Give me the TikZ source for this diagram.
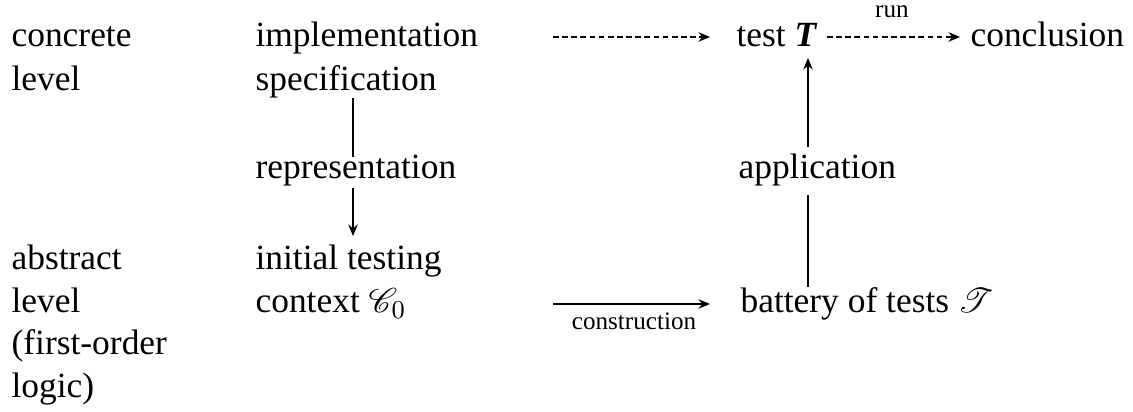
\documentclass[tikz,border=0pt]{standalone}
\usepackage{fontspec}
\setmainfont{Liberation Serif}
\usepackage{mathrsfs}
\usetikzlibrary{arrows.meta}
\begin{document}
\begin{tikzpicture}[x=0.35pt,y=-0.35pt,
  txt/.style={anchor=base west,inner sep=0,font=\fontsize{12.4}{14}\selectfont},
  small/.style={anchor=base,inner sep=0,font=\fontsize{8.8}{10}\selectfont},
  conn/.style={line width=0.55pt},
  tipped/.style={conn,-{Stealth[length=4pt,width=3.3pt]}},
  dashline/.style={tipped,dash pattern=on 2pt off 1.2pt}]
\useasboundingbox (0,0) rectangle (1133,412);
% left column
\node[txt] (concrete) at (11,47) {concrete};
\node[txt] (level1) at (11,91) {level};
\node[txt] (abstract) at (11,270) {abstract};
\node[txt] (level2) at (11,313) {level};
\node[txt] (fol) at (11,355) {(first-order};
\node[txt] (logic) at (11,398) {logic)};
% middle column
\node[txt] (impl) at (255,47) {implementation};
\node[txt] (spec) at (255,91) {specification};
\node[txt] (repr) at (255,179) {representation};
\node[txt] (init) at (255,270) {initial testing};
\node[txt] (ctx) at (255,313) {context $\mathscr{C}_0$};
% right column
\node[txt] (test) at (736,47) {test \textbf{\textit{T}}};
\node[txt] (concl) at (970,47) {conclusion};
\node[txt] (appl) at (738,179) {application};
\node[txt] (batt) at (740,313) {battery of tests $\mathscr{T}$};
% labels
\node[small] (run) at (892,18) {run};
\node[small] (constr) at (634,330) {construction};
% connector anchor points
\coordinate (d1s) at (553,37);
\coordinate (d1e) at (710,37);
\coordinate (d2s) at (827,37);
\coordinate (d2e) at (960,37);
\coordinate (r1) at (353,98);
\coordinate (r2) at (353,157);
\coordinate (r3) at (353,188);
\coordinate (r4) at (353,236);
\coordinate (a1) at (808,287);
\coordinate (a2) at (808,195);
\coordinate (a3) at (808,147);
\coordinate (a4) at (808,58);
\coordinate (c1) at (553,304);
\coordinate (c2) at (710,304);
% connectors
\draw[dashline] (d1s) -- (d1e);
\draw[dashline] (d2s) -- (d2e);
\draw[conn] (r1) -- (r2);
\draw[tipped] (r3) -- (r4);
\draw[conn] (a1) -- (a2);
\draw[tipped] (a3) -- (a4);
\draw[tipped] (c1) -- (c2);
\end{tikzpicture}
\end{document}
